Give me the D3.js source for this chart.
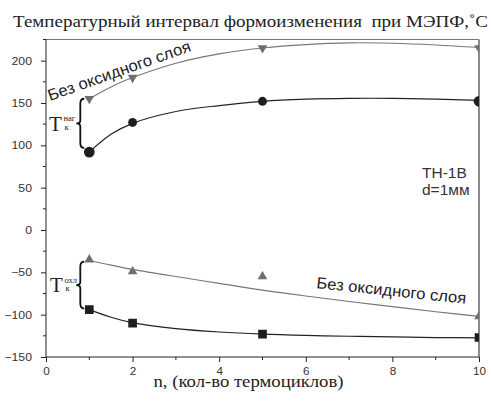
<!DOCTYPE html>
<html>
<head>
<meta charset="utf-8">
<script src="https://cdn.jsdelivr.net/npm/d3@7"></script>
<style>
  html, body { margin: 0; padding: 0; background: #fff; }
  svg { display: block; }
</style>
</head>
<body>
<svg id="chart" width="491" height="401"></svg>
<script>
// Number of thermal cycles at which the specimens were measured
const cycles = [1, 2, 5, 10];

// Heating shape-change temperature, °C
const heatNoOxide = [155, 180, 215, 215];   // without oxide layer
const heatOxide   = [92, 127, 152, 152];    // with oxide layer

// Cooling shape-change temperature, °C
const coolNoOxide = [-35, -49, -55, -102];  // without oxide layer
const coolOxide   = [-94, -110, -123, -127];// with oxide layer

// Trend curves drawn through the measurements
const trendN          = [1, 1.5, 2, 3, 4, 5, 6, 7, 8, 9, 10];
const trendHeatNoOx   = [155, 169, 180, 197, 208, 215, 219, 221, 220.5, 218.5, 215.5];
const trendHeatOx     = [92, 113, 126, 140, 147, 152, 154.5, 155.5, 155.5, 154.5, 153];
const trendCoolNoOx   = [-36, -41.5, -46.5, -55, -63, -71, -78, -84.5, -90.5, -96.5, -102];
const trendCoolOx     = [-94, -103, -109.5, -116.5, -120.5, -123, -124.5, -125.5, -126.3, -127, -127.5];

// Axis ticks
const xTicks = [0, 2, 4, 6, 8, 10];
const xMinor = [1, 3, 5, 7, 9];
const yTicks = [-150, -100, -50, 0, 50, 100, 150, 200];
const yMinor = [-125, -75, -25, 25, 75, 125, 175, 225];

const title  = "Температурный интервал формоизменения\u00A0 при МЭПФ,˚С";
const xTitle = "n, (кол-во термоциклов)";
const curveLabel = "Без оксидного слоя";
const material = ["TH-1B", "d=1мм"];

const svg = d3.select("#chart");
const x = d3.scaleLinear().domain([0, 10]).range([46, 479]);
const y = d3.scaleLinear().domain([-150, 225]).range([357, 39.5]);

const sans = "'Liberation Sans', Arial, sans-serif";
const serif = "'Liberation Serif', 'Times New Roman', serif";
const stretch = 1.12;   // the lettering is set slightly wide

// Title
svg.append("text")
  .attr("transform", `translate(13,26.5) scale(${stretch},1)`)
  .attr("font-family", serif).attr("font-size", 17)
  .attr("fill", "#222")
  .text(title);

// Clip region for the plotted data
svg.append("defs").append("clipPath").attr("id", "plot")
  .append("rect")
  .attr("x", x(0)).attr("y", y(225))
  .attr("width", x(10) - x(0)).attr("height", y(-150) - y(225));

// Frame: top and right sides
svg.append("line")
  .attr("x1", x(0)).attr("x2", x(10)).attr("y1", y(225)).attr("y2", y(225))
  .attr("stroke", "#777").attr("stroke-width", 1);
svg.append("line")
  .attr("x1", x(10)).attr("x2", x(10)).attr("y1", y(225)).attr("y2", y(-150))
  .attr("stroke", "#8a8a8a").attr("stroke-width", 2);

// Y axis
const yAxis = svg.append("g")
  .attr("transform", `translate(${x(0)},0)`)
  .call(d3.axisLeft(y).tickValues(yTicks).tickSize(5).tickPadding(7).tickFormat(d3.format("d")));
yAxis.selectAll(".tick line").attr("stroke", "#222");
yAxis.select(".domain").attr("stroke", "#222").attr("d", `M0,${y(225)}V${y(-150)}`);
yAxis.selectAll("text")
  .attr("font-family", sans).attr("font-size", 10.5).attr("fill", "#333")
  .attr("transform", `scale(${stretch + 0.05},1)`);
yAxis.selectAll(".minor").data(yMinor).enter().append("line")
  .attr("class", "minor")
  .attr("x1", -3).attr("x2", 0)
  .attr("y1", d => y(d)).attr("y2", d => y(d))
  .attr("stroke", "#222");

// X axis
const xAxis = svg.append("g")
  .attr("transform", `translate(0,${y(-150)})`)
  .call(d3.axisBottom(x).tickValues(xTicks).tickSize(5).tickPadding(6).tickFormat(d3.format("d")));
xAxis.selectAll(".tick line").attr("stroke", "#222");
xAxis.select(".domain").attr("stroke", "#222").attr("d", `M${x(0)},0H${x(10)}`);
xAxis.selectAll("text")
  .attr("font-family", sans).attr("font-size", 10).attr("fill", "#333")
  .attr("transform", `scale(${stretch + 0.05},1)`);
xAxis.selectAll(".minor").data(xMinor).enter().append("line")
  .attr("class", "minor")
  .attr("x1", d => x(d)).attr("x2", d => x(d))
  .attr("y1", 0).attr("y2", 3)
  .attr("stroke", "#222");

// X axis title
svg.append("text")
  .attr("transform", `translate(248.5,387) scale(${stretch + 0.015},1)`)
  .attr("text-anchor", "middle")
  .attr("font-family", serif).attr("font-size", 16.5)
  .attr("fill", "#222")
  .text(xTitle);

// Trend curves
const plot = svg.append("g").attr("clip-path", "url(#plot)");
const trendLine = d3.line()
  .x(d => x(d[0])).y(d => y(d[1]))
  .curve(d3.curveCatmullRom);

const trends = [
  { v: trendHeatNoOx, color: "#777", w: 1.1 },
  { v: trendHeatOx,   color: "#222", w: 1.2 },
  { v: trendCoolNoOx, color: "#777", w: 1.1 },
  { v: trendCoolOx,   color: "#222", w: 1.2 }
];
trends.forEach(t => {
  plot.append("path")
    .datum(d3.zip(trendN, t.v))
    .attr("d", trendLine)
    .attr("fill", "none")
    .attr("stroke", t.color)
    .attr("stroke-width", t.w);
});

// Markers (the end circles of the oxide heating series are drawn larger)
const series = [
  { v: heatNoOxide, type: d3.symbolTriangle, size: () => 40, rot: 180, color: "#6e6e6e" },
  { v: heatOxide,   type: d3.symbolCircle,   size: (i, n) => (i === 0 || i === n - 1) ? 90 : 62, rot: 0, color: "#1e1e1e" },
  { v: coolNoOxide, type: d3.symbolTriangle, size: () => 40, rot: 0,   color: "#6e6e6e" },
  { v: coolOxide,   type: d3.symbolSquare,   size: () => 75, rot: 0,   color: "#1e1e1e" }
];
series.forEach(s => {
  plot.selectAll(null)
    .data(d3.zip(cycles, s.v))
    .enter().append("path")
    .attr("d", (d, i) => d3.symbol().type(s.type).size(s.size(i, cycles.length))())
    .attr("transform", d => `translate(${x(d[0])},${y(d[1])}) rotate(${s.rot})`)
    .attr("fill", s.color);
});

// Curly braces marking the transformation intervals at n = 1
function brace(top, bot, xe) {
  const xb = xe - 4, xp = xe - 8, mid = (top + bot) / 2, r = 5;
  return `M${xe},${top}Q${xb},${top} ${xb},${top + r}L${xb},${mid - 3}` +
         `Q${xb},${mid} ${xp},${mid}Q${xb},${mid} ${xb},${mid + 3}` +
         `L${xb},${bot - r}Q${xb},${bot} ${xe},${bot}`;
}
const bx = x(cycles[0]) - 5;
svg.append("path")
  .attr("d", brace(y(heatNoOxide[0]), y(heatOxide[0]) - 4, bx))
  .attr("fill", "none").attr("stroke", "#111").attr("stroke-width", 1.8);
svg.append("path")
  .attr("d", brace(y(coolNoOxide[0]) + 2, y(coolOxide[0]) - 1, bx))
  .attr("fill", "none").attr("stroke", "#111").attr("stroke-width", 1.8);

// T_k labels
function tLabel(x0, base, sup) {
  const g = svg.append("g").attr("font-family", serif).attr("fill", "#222");
  g.append("text").attr("x", x0).attr("y", base).attr("font-size", 21).text("T");
  g.append("text").attr("x", x0 + 14.5).attr("y", base - 9.5).attr("font-size", 8.5).text(sup);
  g.append("text").attr("x", x0 + 15.5).attr("y", base - 1).attr("font-size", 8.5).text("к");
}
tLabel(49, 130.5, "наг");
tLabel(50, 292, "охл");

// Curve labels
svg.append("text")
  .attr("transform", "translate(50,101) rotate(-19.5) scale(1.04,1)")
  .attr("font-family", sans).attr("font-size", 16)
  .attr("fill", "#222")
  .text(curveLabel);
svg.append("text")
  .attr("transform", "translate(316,288) rotate(6) scale(1.04,1)")
  .attr("font-family", sans).attr("font-size", 16)
  .attr("fill", "#222")
  .text(curveLabel);

// Material annotation
svg.append("g")
  .attr("font-family", sans).attr("font-size", 15.5).attr("fill", "#333")
  .selectAll("text").data(material).enter().append("text")
  .attr("x", 422).attr("y", (d, i) => 178 + i * 17)
  .text(d => d);
</script>
</body>
</html>
